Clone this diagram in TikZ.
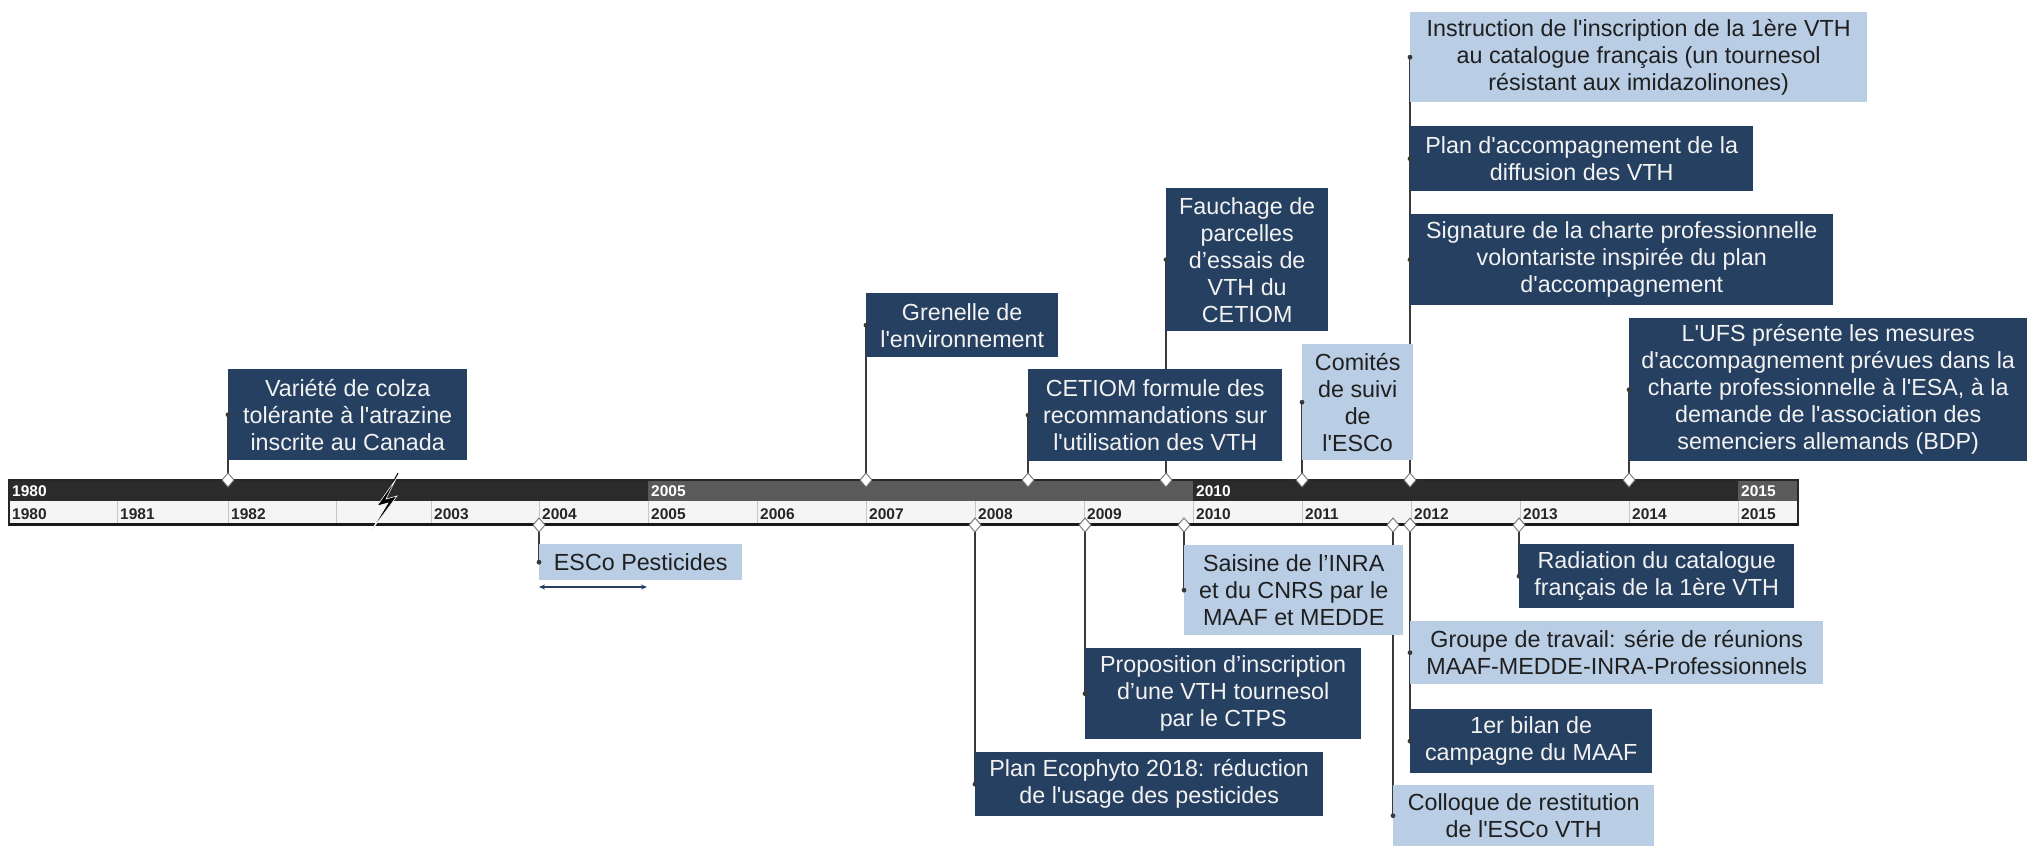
\documentclass[tikz,border=0pt]{standalone}
\usepackage{fontspec}
\setmainfont{Liberation Sans}
\usetikzlibrary{arrows.meta}
\definecolor{navy}{HTML}{264061}
\definecolor{lblue}{HTML}{B9CDE5}
\definecolor{bandA}{HTML}{2B2B2B}
\definecolor{bandB}{HTML}{5A5A5A}
\definecolor{rowfill}{HTML}{F5F5F5}
\definecolor{conncol}{HTML}{3A3A3A}
\newcommand{\ap}{\textquotesingle}
\begin{document}
\begin{tikzpicture}[x=1pt,y=-1pt,
  evbox/.style={anchor=north west, inner sep=0pt, align=center, font=\fontsize{23.3}{27}\selectfont},
  darkbox/.style={evbox, fill=navy, text=white!95!black},
  lightbox/.style={evbox, fill=lblue, text=black!88},
  conn/.style={draw=conncol, line width=1.3pt},
  yearlab/.style={anchor=base west, inner sep=0pt, font=\fontsize{15.5}{16}\selectfont\bfseries, text=black!85},
  bandlab/.style={yearlab, text=white},
  mk/.pic={\draw[draw=black!55, fill=white, line width=0.9pt] (0,-7) -- (6,0) -- (0,7) -- (-6,0) -- cycle;}
]
\useasboundingbox (0,0) rectangle (2027,846);

% ---- timeline bar
\fill[bandA] (9,480) rectangle (648,501);
\fill[bandB] (648,480) rectangle (1193,501);
\fill[bandA] (1193,480) rectangle (1738,501);
\fill[bandB] (1738,480) rectangle (1798,501);
\fill[rowfill] (9,501) rectangle (1798,523);
\foreach \x in {117,228,336,431,539,648,757,866,975,1084,1193,1302,1411,1520,1629,1738}
  \draw[black!22, line width=0.8pt] (\x,501) -- (\x,523);
\draw[black!85, line width=1.2pt] (9,480) rectangle (1798,525);
\draw[black!90, line width=3pt] (9,524.5) -- (1798,524.5);

\foreach \x/\t [count=\i] in {9/1980,648/2005,1193/2010,1738/2015}
  \node[bandlab] (bl\i) at (\x+3,496) {\t};
\foreach \x/\t [count=\i] in {9/1980,117/1981,228/1982,431/2003,539/2004,648/2005,757/2006,866/2007,975/2008,1084/2009,1193/2010,1302/2011,1411/2012,1520/2013,1629/2014,1738/2015}
  \node[yearlab] (yl\i) at (\x+3,519) {\t};

% lightning
\draw[black, line width=1pt] (398,473) -- (388,492);
\fill[black, draw=white, line width=0.6pt] (396,479) -- (377,506) -- (388,503) -- (371,531) -- (397,496) -- (386,499) -- cycle;

% ---- boxes above (placed first, connectors are drawn under them)
\path node[darkbox, minimum width=239pt, minimum height=91pt] (T1) at (228,369) {Variété de colza\\tolérante à l\ap atrazine\\inscrite au Canada}
  node[darkbox, minimum width=192pt, minimum height=64pt] (T2) at (866,293) {Grenelle de\\l\ap environnement}
  node[darkbox, minimum width=254pt, minimum height=92pt] (T3) at (1028,369) {CETIOM formule des\\recommandations sur\\l\ap utilisation des VTH}
  node[darkbox, minimum width=162pt, minimum height=143pt] (T4) at (1166,188) {Fauchage de\\parcelles\\d’essais de\\VTH du\\CETIOM}
  node[lightbox, minimum width=111pt, minimum height=116pt] (T5) at (1302,344) {Comités\\de suivi\\de\\l\ap ESCo}
  node[lightbox, minimum width=457pt, minimum height=90pt] (T6) at (1410,12) {Instruction de l\ap inscription de la 1ère VTH\\au catalogue français (un tournesol\\résistant aux imidazolinones)}
  node[darkbox, minimum width=343pt, minimum height=65pt] (T7) at (1410,126) {Plan d\ap accompagnement de la\\diffusion des VTH}
  node[darkbox, minimum width=423pt, minimum height=91pt] (T8) at (1410,214) {Signature de la charte professionnelle\\volontariste inspirée du plan\\d\ap accompagnement}
  node[darkbox, minimum width=398pt, minimum height=143pt] (T9) at (1629,318) {L\ap UFS présente les mesures\\d\ap accompagnement prévues dans la\\charte professionnelle à l\ap ESA, à la\\demande de l\ap association des\\semenciers allemands (BDP)}
% ---- boxes below
  node[lightbox, minimum width=203pt, minimum height=36pt] (B1) at (539,544) {ESCo Pesticides}
  node[darkbox, minimum width=348pt, minimum height=64pt] (B2) at (975,752) {Plan Ecophyto 2018: réduction\\de l\ap usage des pesticides}
  node[darkbox, minimum width=276pt, minimum height=91pt] (B3) at (1085,648) {Proposition d’inscription\\d’une VTH tournesol\\par le CTPS}
  node[lightbox, minimum width=219pt, minimum height=90pt] (B4) at (1184,545) {Saisine de l’INRA\\et du CNRS par le\\MAAF et MEDDE}
  node[darkbox, minimum width=275pt, minimum height=64pt] (B5) at (1519,544) {Radiation du catalogue\\français de la 1ère VTH}
  node[lightbox, minimum width=413pt, minimum height=63pt] (B6) at (1410,621) {Groupe de travail: série de réunions\\MAAF-MEDDE-INRA-Professionnels}
  node[darkbox, minimum width=242pt, minimum height=64pt] (B7) at (1410,709) {1er bilan de\\campagne du MAAF}
  node[lightbox, minimum width=261pt, minimum height=61pt] (B8) at (1393,785) {Colloque de restitution\\de l\ap ESCo VTH};

% ---- marker points on the bar
\foreach \n in {T1,T2,T3,T4,T5,T8,T9}
  \coordinate (d\n) at (\n.west |- 0,480);
\foreach \n in {B1,B2,B3,B4,B5,B6,B8}
  \coordinate (d\n) at (\n.west |- 0,525);

% ---- connectors, drawn on a background layer under the boxes
\pgfdeclarelayer{back}
\pgfsetlayers{back,main}
\begin{pgfonlayer}{back}
\foreach \n in {T1,T2,T3,T4,T5,T9,B1,B2,B3,B4,B5,B8}
  \draw[conn] (d\n) -- (\n.west);
\draw[conn] (dT8) -- (T8.west) -- (T7.west) -- (T6.west);
\draw[conn] (dB6) -- (B6.west) -- (B7.west);
\end{pgfonlayer}
\foreach \n in {T1,T2,T3,T4,T5,T6,T7,T8,T9,B1,B2,B3,B4,B5,B6,B7,B8}
  \fill[conncol] (\n.west) circle (2.4);
\foreach \n in {T1,T2,T3,T4,T5,T8,T9,B1,B2,B3,B4,B5,B6,B8}
  \pic at (d\n) {mk};

% ---- span arrow under ESCo Pesticides
\coordinate (s1) at (539,587);
\coordinate (s2) at (647,587);
\draw[navy, line width=1.3pt, {Stealth[length=6pt,width=5pt]}-{Stealth[length=6pt,width=5pt]}] (s1) -- (s2);
\end{tikzpicture}
\end{document}
